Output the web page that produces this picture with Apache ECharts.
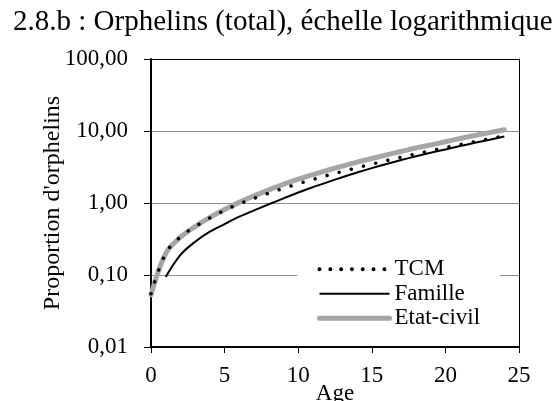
<!DOCTYPE html>
<html>
<head>
<meta charset="utf-8">
<script src="https://cdn.jsdelivr.net/npm/echarts@6/dist/echarts.min.js"></script>
<style>
html,body{margin:0;padding:0;background:#fff;}
#chart{width:560px;height:401px;}
</style>
</head>
<body>
<div id="chart"></div>
<script>
const titleText = "2.8.b : Orphelins (total), échelle logarithmique";
const ages = [0,1,2,3,4,5,6,7,8,9,10,11,12,13,14,15,16,17,18,19,20,21,22,23,24];
const tcm = [0.055,0.20,0.34,0.47,0.62,0.79,0.97,1.16,1.37,1.6,1.85,2.12,2.42,2.74,3.09,3.47,3.88,4.32,4.8,5.32,5.88,6.48,7.12,7.8,8.55];
const famille = [null,0.094,0.19,0.29,0.40,0.51,0.645,0.79,0.96,1.16,1.4,1.66,1.95,2.28,2.65,3.05,3.48,3.95,4.45,4.98,5.55,6.17,6.85,7.58,8.4];
const etatCivil = [0.053,0.20,0.335,0.47,0.63,0.81,1.02,1.26,1.52,1.82,2.14,2.48,2.85,3.25,3.69,4.15,4.65,5.2,5.8,6.4,7.1,7.85,8.65,9.5,10.4];
const xTicks = [0,5,10,15,20,25];
const yTicks = [0.01,0.1,1,10,100];

function pairs(vals){
  const out = [];
  ages.forEach((a,i)=>{ if(vals[i]!=null) out.push([a, vals[i]]); });
  return out;
}
const serif = "'Liberation Serif','Times New Roman',serif";
const hidden = {color:'rgba(0,0,0,0)',borderColor:'rgba(0,0,0,0)',borderWidth:0};
const chart = echarts.init(document.getElementById('chart'));
chart.setOption({
  animation:false,
  backgroundColor:'#fff',
  title:{text:titleText,left:13,top:8,padding:0,textStyle:{fontFamily:serif,fontSize:29,fontWeight:'normal',color:'#000'}},
  grid:{left:151,right:41,top:59,bottom:54,outerBoundsMode:'none',containLabel:false},
  legend:{
    data:[
      {name:'TCM',itemStyle:hidden,lineStyle:{type:[0.01,10.8],cap:'round',width:4}},
      {name:'Famille',itemStyle:hidden,lineStyle:{width:2}},
      {name:'Etat-civil',itemStyle:hidden,lineStyle:{width:5,cap:'round'}}
    ],
    orient:'vertical',left:297,top:256,
    padding:[1,20,1,20],
    backgroundColor:'#fff',
    itemWidth:70,itemHeight:14,itemGap:0,
    lineStyle:{width:'inherit'},
    textStyle:{fontFamily:serif,fontSize:23,color:'#000',padding:[0,0,0,0],lineHeight:24.5},
    selectedMode:false
  },
  xAxis:[{
    type:'value',min:0,max:25,interval:5,
    name:'Age',nameLocation:'middle',nameGap:35,nameMoveOverlap:false,
    nameTextStyle:{fontFamily:serif,fontSize:23,color:'#000'},
    axisLine:{show:true,onZero:false,lineStyle:{color:'#000',width:2}},
    axisTick:{show:true,length:6,lineStyle:{color:'#000',width:1}},
    axisLabel:{fontFamily:serif,fontSize:23,color:'#000',margin:17,
      formatter:v=>xTicks.includes(v)?String(v):''},
    splitLine:{show:false}
  },{
    type:'value',min:0,max:25,position:'top',
    axisLine:{show:true,onZero:false,lineStyle:{color:'#000',width:1}},
    axisTick:{show:false},axisLabel:{show:false},splitLine:{show:false}
  }],
  yAxis:[{
    type:'log',logBase:10,min:0.01,max:100,splitNumber:4,
    name:"Proportion d'orphelins",nameLocation:'middle',nameGap:86,nameMoveOverlap:false,
    nameTextStyle:{fontFamily:serif,fontSize:24,color:'#000'},
    axisLine:{show:true,onZero:false,lineStyle:{color:'#000',width:2}},
    axisTick:{show:true,length:7,lineStyle:{color:'#000',width:1}},
    axisLabel:{fontFamily:serif,fontSize:23,color:'#000',margin:23,
      formatter:v=>Number(v).toFixed(2).replace('.',',')},
    splitLine:{show:true,lineStyle:{color:'#8c8c8c',width:1}}
  },{
    type:'log',logBase:10,min:0.01,max:100,position:'right',
    axisLine:{show:true,onZero:false,lineStyle:{color:'#000',width:1}},
    axisTick:{show:false},axisLabel:{show:false},splitLine:{show:false}
  }],
  series:[
    {name:'Etat-civil',type:'line',data:pairs(etatCivil),smooth:0.35,showSymbol:false,symbol:'none',
      color:'#a6a6a6',lineStyle:{color:'#a6a6a6',width:5,cap:'round',join:'round'}},
    {name:'Famille',type:'line',data:pairs(famille),smooth:0.35,showSymbol:false,symbol:'none',
      color:'#000',lineStyle:{color:'#000',width:2}},
    {name:'TCM',type:'line',data:pairs(tcm),smooth:0.35,showSymbol:false,symbol:'none',
      color:'#000',lineStyle:{color:'#000',width:3.5,type:[0.01,12.5],cap:'round'}}
  ]
});
</script>
</body>
</html>
